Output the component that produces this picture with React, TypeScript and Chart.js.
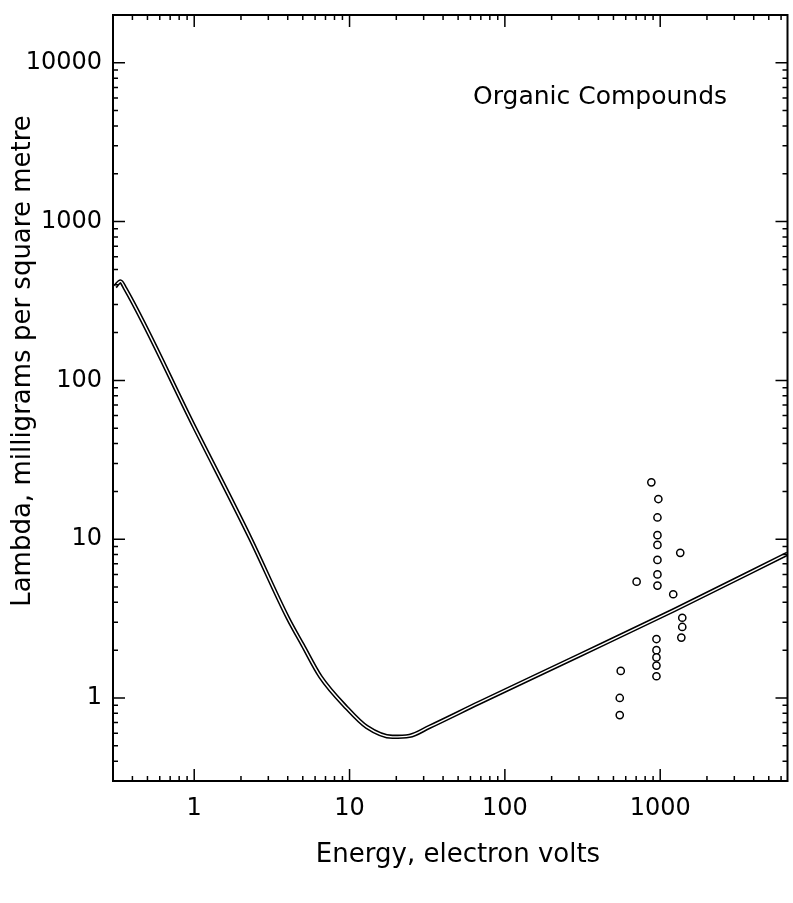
import React, { useEffect, useRef } from "react";
import { Chart, registerables } from "chart.js";

Chart.register(...registerables);

// Axis ranges (log scales)
const energyRange = [0.31, 6600];
const lambdaRange = [0.3, 20000];

// Fitted curve (energy in eV, lambda in mg/m^2)
const curveEnergy = [0.31, 0.335, 0.36, 1.0, 2.3, 4.0, 5.0, 6.5, 9.6, 12.9, 18.9, 24.3, 32.6, 68, 296, 1230, 6600];
const curveLambda = [390, 420, 378, 51, 10.1, 3.2, 2.15, 1.36, 0.865, 0.657, 0.569, 0.577, 0.657, 0.93, 1.84, 3.58, 8.1];

// Measured points
const pointEnergy = [877, 973, 960, 960, 960, 960, 960, 1346, 705, 960, 1213, 1387, 1387, 1368, 946, 946, 946, 946, 946, 557, 549, 549];
const pointLambda = [22.8, 17.9, 13.7, 10.6, 9.2, 7.4, 6.0, 8.2, 5.4, 5.1, 4.5, 3.2, 2.8, 2.4, 2.35, 2.0, 1.8, 1.6, 1.37, 1.48, 1.0, 0.78];

const xTitle = "Energy, electron volts";
const yTitle = "Lambda, milligrams per square metre";
const insetLabel = "Organic Compounds";

const FONT = '"DejaVu Sans", sans-serif';

function mantissa(v: number): number {
  const e = Math.floor(Math.log10(v) + 1e-9);
  return v / Math.pow(10, e);
}
function isInt(m: number): boolean {
  return Math.abs(m - Math.round(m)) < 1e-6;
}
function decadeLabel(v: number): string {
  const m = mantissa(v);
  return Math.abs(m - 1) < 1e-6 ? String(Math.round(v * 1000) / 1000) : "";
}

const framePlugin = {
  id: "frame",
  afterDatasetsDraw(chart: any) {
    const { ctx, chartArea: a, scales } = chart;
    ctx.save();
    ctx.strokeStyle = "#000";
    ctx.lineWidth = 2;
    ctx.strokeRect(a.left, a.top, a.right - a.left, a.bottom - a.top);
    ctx.lineWidth = 1.5;
    const xs = scales.x;
    const ys = scales.y;
    xs.ticks.forEach((t: any) => {
      const m = mantissa(t.value);
      if (!isInt(m)) return;
      const px = xs.getPixelForValue(t.value);
      if (px <= a.left + 1 || px >= a.right - 1) return;
      const len = Math.abs(m - 1) < 1e-6 ? 12 : 5;
      ctx.beginPath();
      ctx.moveTo(px, a.bottom);
      ctx.lineTo(px, a.bottom - len);
      ctx.moveTo(px, a.top);
      ctx.lineTo(px, a.top + len);
      ctx.stroke();
    });
    ys.ticks.forEach((t: any) => {
      const m = mantissa(t.value);
      if (!isInt(m)) return;
      const py = ys.getPixelForValue(t.value);
      if (py <= a.top + 1 || py >= a.bottom - 1) return;
      const len = Math.abs(m - 1) < 1e-6 ? 12 : 5;
      ctx.beginPath();
      ctx.moveTo(a.left, py);
      ctx.lineTo(a.left + len, py);
      ctx.moveTo(a.right, py);
      ctx.lineTo(a.right - len, py);
      ctx.stroke();
    });
    ctx.restore();
  },
  afterDraw(chart: any) {
    const { ctx } = chart;
    ctx.save();
    ctx.fillStyle = "#000";
    ctx.textBaseline = "middle";
    ctx.font = `25px ${FONT}`;
    ctx.textAlign = "left";
    ctx.fillText(insetLabel, 473, 97);
    ctx.font = `26px ${FONT}`;
    ctx.textAlign = "center";
    ctx.fillText(xTitle, 458, 855);
    ctx.translate(23, 361);
    ctx.rotate(-Math.PI / 2);
    ctx.fillText(yTitle, 0, 0);
    ctx.restore();
  },
};

export default function App() {
  const ref = useRef<HTMLCanvasElement | null>(null);
  useEffect(() => {
    const canvas = ref.current;
    if (!canvas) return;
    const curve = curveEnergy.map((x, i) => ({ x, y: curveLambda[i] }));
    const pts = pointEnergy.map((x, i) => ({ x, y: pointLambda[i] }));
    const tickFont = { family: FONT, size: 24 };
    const chart = new Chart(canvas, {
      type: "line",
      data: {
        datasets: [
          { data: curve, borderColor: "#000", borderWidth: 4.5, pointRadius: 0, cubicInterpolationMode: "monotone", order: 2 } as any,
          { data: curve, borderColor: "#fff", borderWidth: 1.4, pointRadius: 0, cubicInterpolationMode: "monotone", order: 1 } as any,
          { data: pts, showLine: false, pointRadius: 3.6, pointBorderWidth: 1.5, pointBorderColor: "#000", pointBackgroundColor: "#fff", borderColor: "#000", order: 0 } as any,
        ],
      },
      options: {
        animation: false,
        responsive: false,
        maintainAspectRatio: false,
        layout: { padding: { top: 15, right: 1, left: 0, bottom: 0 } },
        plugins: { legend: { display: false }, tooltip: { enabled: false }, title: { display: false } },
        scales: {
          x: {
            type: "logarithmic",
            min: energyRange[0],
            max: energyRange[1],
            grid: { display: false, drawTicks: false },
            border: { display: false },
            ticks: { callback: (v: any) => decadeLabel(Number(v)), font: tickFont, color: "#000", padding: 13, maxRotation: 0, autoSkip: false },
            afterFit: (s: any) => { s.height = 122; s.paddingLeft = 0; s.paddingRight = 0; },
          },
          y: {
            type: "logarithmic",
            min: lambdaRange[0],
            max: lambdaRange[1],
            grid: { display: false, drawTicks: false },
            border: { display: false },
            ticks: { callback: (v: any) => decadeLabel(Number(v)), font: tickFont, color: "#000", padding: 11, autoSkip: false },
            afterFit: (s: any) => { s.width = 113; s.paddingTop = 0; s.paddingBottom = 0; },
          },
        },
      } as any,
      plugins: [framePlugin],
    });
    return () => chart.destroy();
  }, []);
  return (
    <div style={{ position: "absolute", left: 0, top: 0, width: 793, height: 903, background: "#fff" }}>
      <canvas ref={ref} width={793} height={903} style={{ width: 793, height: 903, display: "block" }} />
    </div>
  );
}
